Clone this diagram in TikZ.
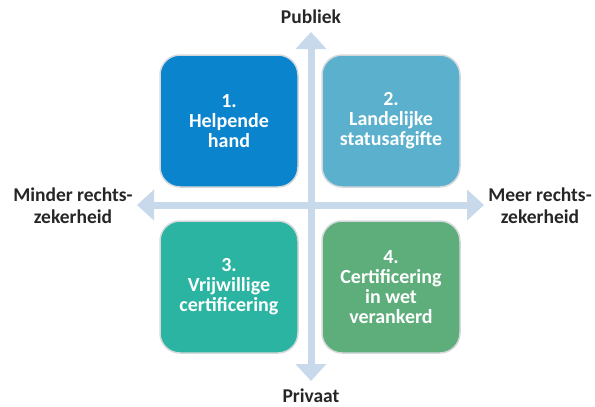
\documentclass[tikz,border=0pt]{standalone}
\usepackage{fontspec}
\setmainfont{Carlito}
\usetikzlibrary{arrows.meta}

\definecolor{axisblue}{HTML}{C9D9EC}
\definecolor{boxline}{HTML}{D6D9DC}
\definecolor{labelgray}{HTML}{262626}
\definecolor{handblue}{HTML}{0A84CC}
\definecolor{statusblue}{HTML}{5BB1CD}
\definecolor{certteal}{HTML}{2BB4A1}
\definecolor{wetgreen}{HTML}{5EAE7C}

\begin{document}
\begin{tikzpicture}[x=1pt, y=-1pt,
  quad/.style={draw=boxline, line width=1.5pt, rounded corners=20pt,
    minimum width=138pt, minimum height=132pt, text=white, align=center,
    font=\bfseries\fontsize{20}{20}\selectfont},
  axislabel/.style={text=labelgray, align=center,
    font=\bfseries\fontsize{19.5}{22}\selectfont},
  axis/.style={draw=axisblue, line width=7pt,
    {Triangle[width=30pt,length=17pt]}-{Triangle[width=30pt,length=17pt]}}]
  \useasboundingbox (0,0) rectangle (595,407);

  % axes
  \coordinate (top) at (311, 32);
  \coordinate (bottom) at (311, 381);
  \coordinate (left) at (137, 205);
  \coordinate (right) at (484, 205);
  \draw[axis] (left) -- (right);
  \draw[axis] (top) -- (bottom);

  \node[axislabel] (publiek) at (311, 17) {Publiek};
  \node[axislabel] (privaat) at (311, 396) {Privaat};
  \node[axislabel] (minder) at (73, 206) {Minder rechts-\\zekerheid};
  \node[axislabel] (meer) at (540, 206) {Meer rechts-\\zekerheid};

  % quadrants
  \node[quad, fill=handblue] (hand) at (229, 121) {1.\\Helpende\\hand};
  \node[quad, fill=statusblue] (status) at (391, 121) {2.\\Landelijke\\statusafgifte};
  \node[quad, fill=certteal] (vrijwillig) at (229, 287) {3.\\Vrijwillige\\certificering};
  \node[quad, fill=wetgreen] (wet) at (391, 287) {4.\\Certificering\\in wet\\verankerd};

\end{tikzpicture}
\end{document}
